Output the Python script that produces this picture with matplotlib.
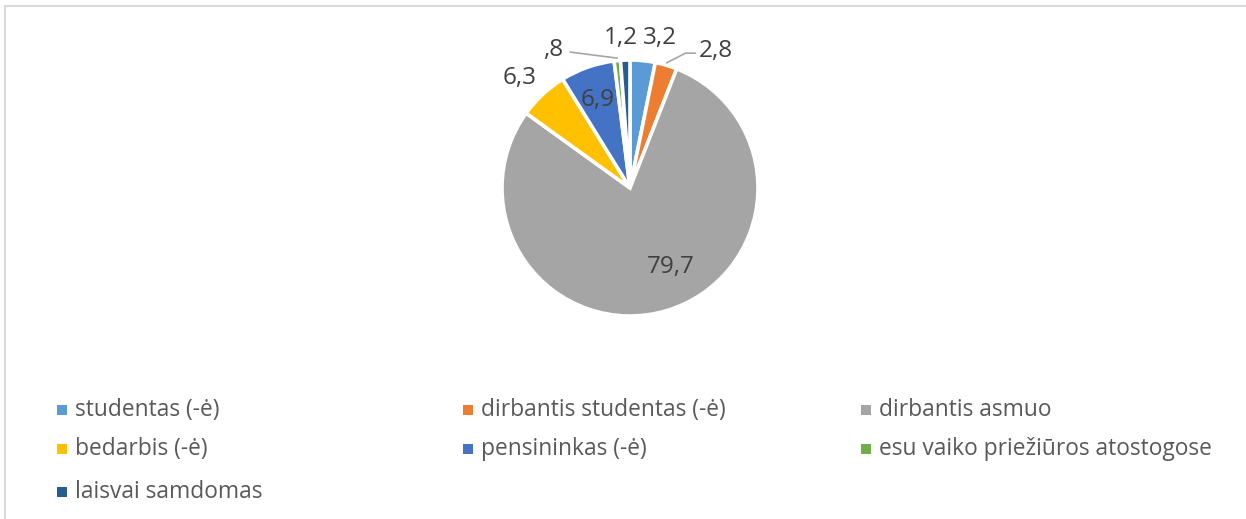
import matplotlib
matplotlib.use("Agg")
import matplotlib.pyplot as plt
import numpy as np
from matplotlib.patches import Rectangle
from matplotlib.lines import Line2D

categories = ["studentas (-ė)", "dirbantis studentas (-ė)", "dirbantis asmuo",
              "bedarbis (-ė)", "pensininkas (-ė)", "esu vaiko priežiūros atostogose",
              "laisvai samdomas"]
values = [3.2, 2.8, 79.7, 6.3, 6.9, 0.8, 1.2]
value_labels = ["3,2", "2,8", "79,7", "6,3", "6,9", ",8", "1,2"]
colors = ["#5B9BD5", "#ED7D31", "#A5A5A5", "#FFC000", "#4472C4", "#70AD47", "#255E91"]

# label placement style: (radius factor, angle offset deg (+ = clockwise), leader)
label_style = [(1.218, 5.4, None), (1.284, 15.2, "right"), (0.675, -11.9, None),
               (1.232, -1.2, None), (0.754, 0.0, None), (1.255, -22.9, "left"),
               (1.198, -1.3, None)]

plt.rcParams['font.family'] = ['Open Sans', 'DejaVu Sans']

W, H = 1246, 519
fig = plt.figure(figsize=(W / 100, H / 100), dpi=100)
cx, cy, r = 630, 188, 128
ax = fig.add_axes([(cx - r) / W, (H - cy - r) / H, 2 * r / W, 2 * r / H])
wedges, _ = ax.pie(values, colors=colors, startangle=90, counterclock=False,
                   wedgeprops=dict(edgecolor="white", linewidth=2.6))
ax.set_xlim(-1, 1)
ax.set_ylim(-1, 1)
ax.axis("off")

total = sum(values)
cum = 0
for i, v in enumerate(values):
    mid = (cum + v / 2) / total * 360.0
    cum += v
    rf, off, leader = label_style[i]
    a = np.deg2rad(90 - (mid + off))
    x, y = rf * np.cos(a), rf * np.sin(a)
    ax.text(x, y, value_labels[i], ha="center", va="center_baseline", fontsize=17.5,
            color="#404040", clip_on=False)
    if leader:
        am = np.deg2rad(90 - mid)
        ex, ey = 1.02 * np.cos(am), 1.02 * np.sin(am)
        if leader == "right":
            pts = [(ex, ey), (x - 0.24, y - 0.04), (x - 0.165, y - 0.04)]
        else:
            pts = [(ex, ey), (x + 0.135, y - 0.04)]
        ax.add_line(Line2D([p[0] for p in pts], [p[1] for p in pts],
                           color="#A6A6A6", lw=1.2, clip_on=False))

# legend (row-wise, 3 columns)
col_x = [62, 468, 866]
row_y = [410, 449, 492]
for i, (lab, c) in enumerate(zip(categories, colors)):
    rr, cc = divmod(i, 3)
    x0, y0 = col_x[cc], row_y[rr]
    fig.patches.append(Rectangle(((x0 - 5) / W, (H - y0 - 5) / H), 10 / W, 10 / H,
                                 transform=fig.transFigure, facecolor=c,
                                 edgecolor="none"))
    fig.text((x0 + 13) / W, (H - y0) / H, lab, ha="left", va="center",
             fontsize=16.4, color="#595959")

# chart border (top and left visible)
fig.add_artist(Line2D([5 / W, 1], [(H - 6) / H, (H - 6) / H],
                      transform=fig.transFigure, color="#D9D9D9", lw=1.5))
fig.add_artist(Line2D([5 / W, 5 / W], [0, (H - 6) / H],
                      transform=fig.transFigure, color="#D9D9D9", lw=1.5))

fig.savefig("out.png", dpi=100, facecolor="white")
